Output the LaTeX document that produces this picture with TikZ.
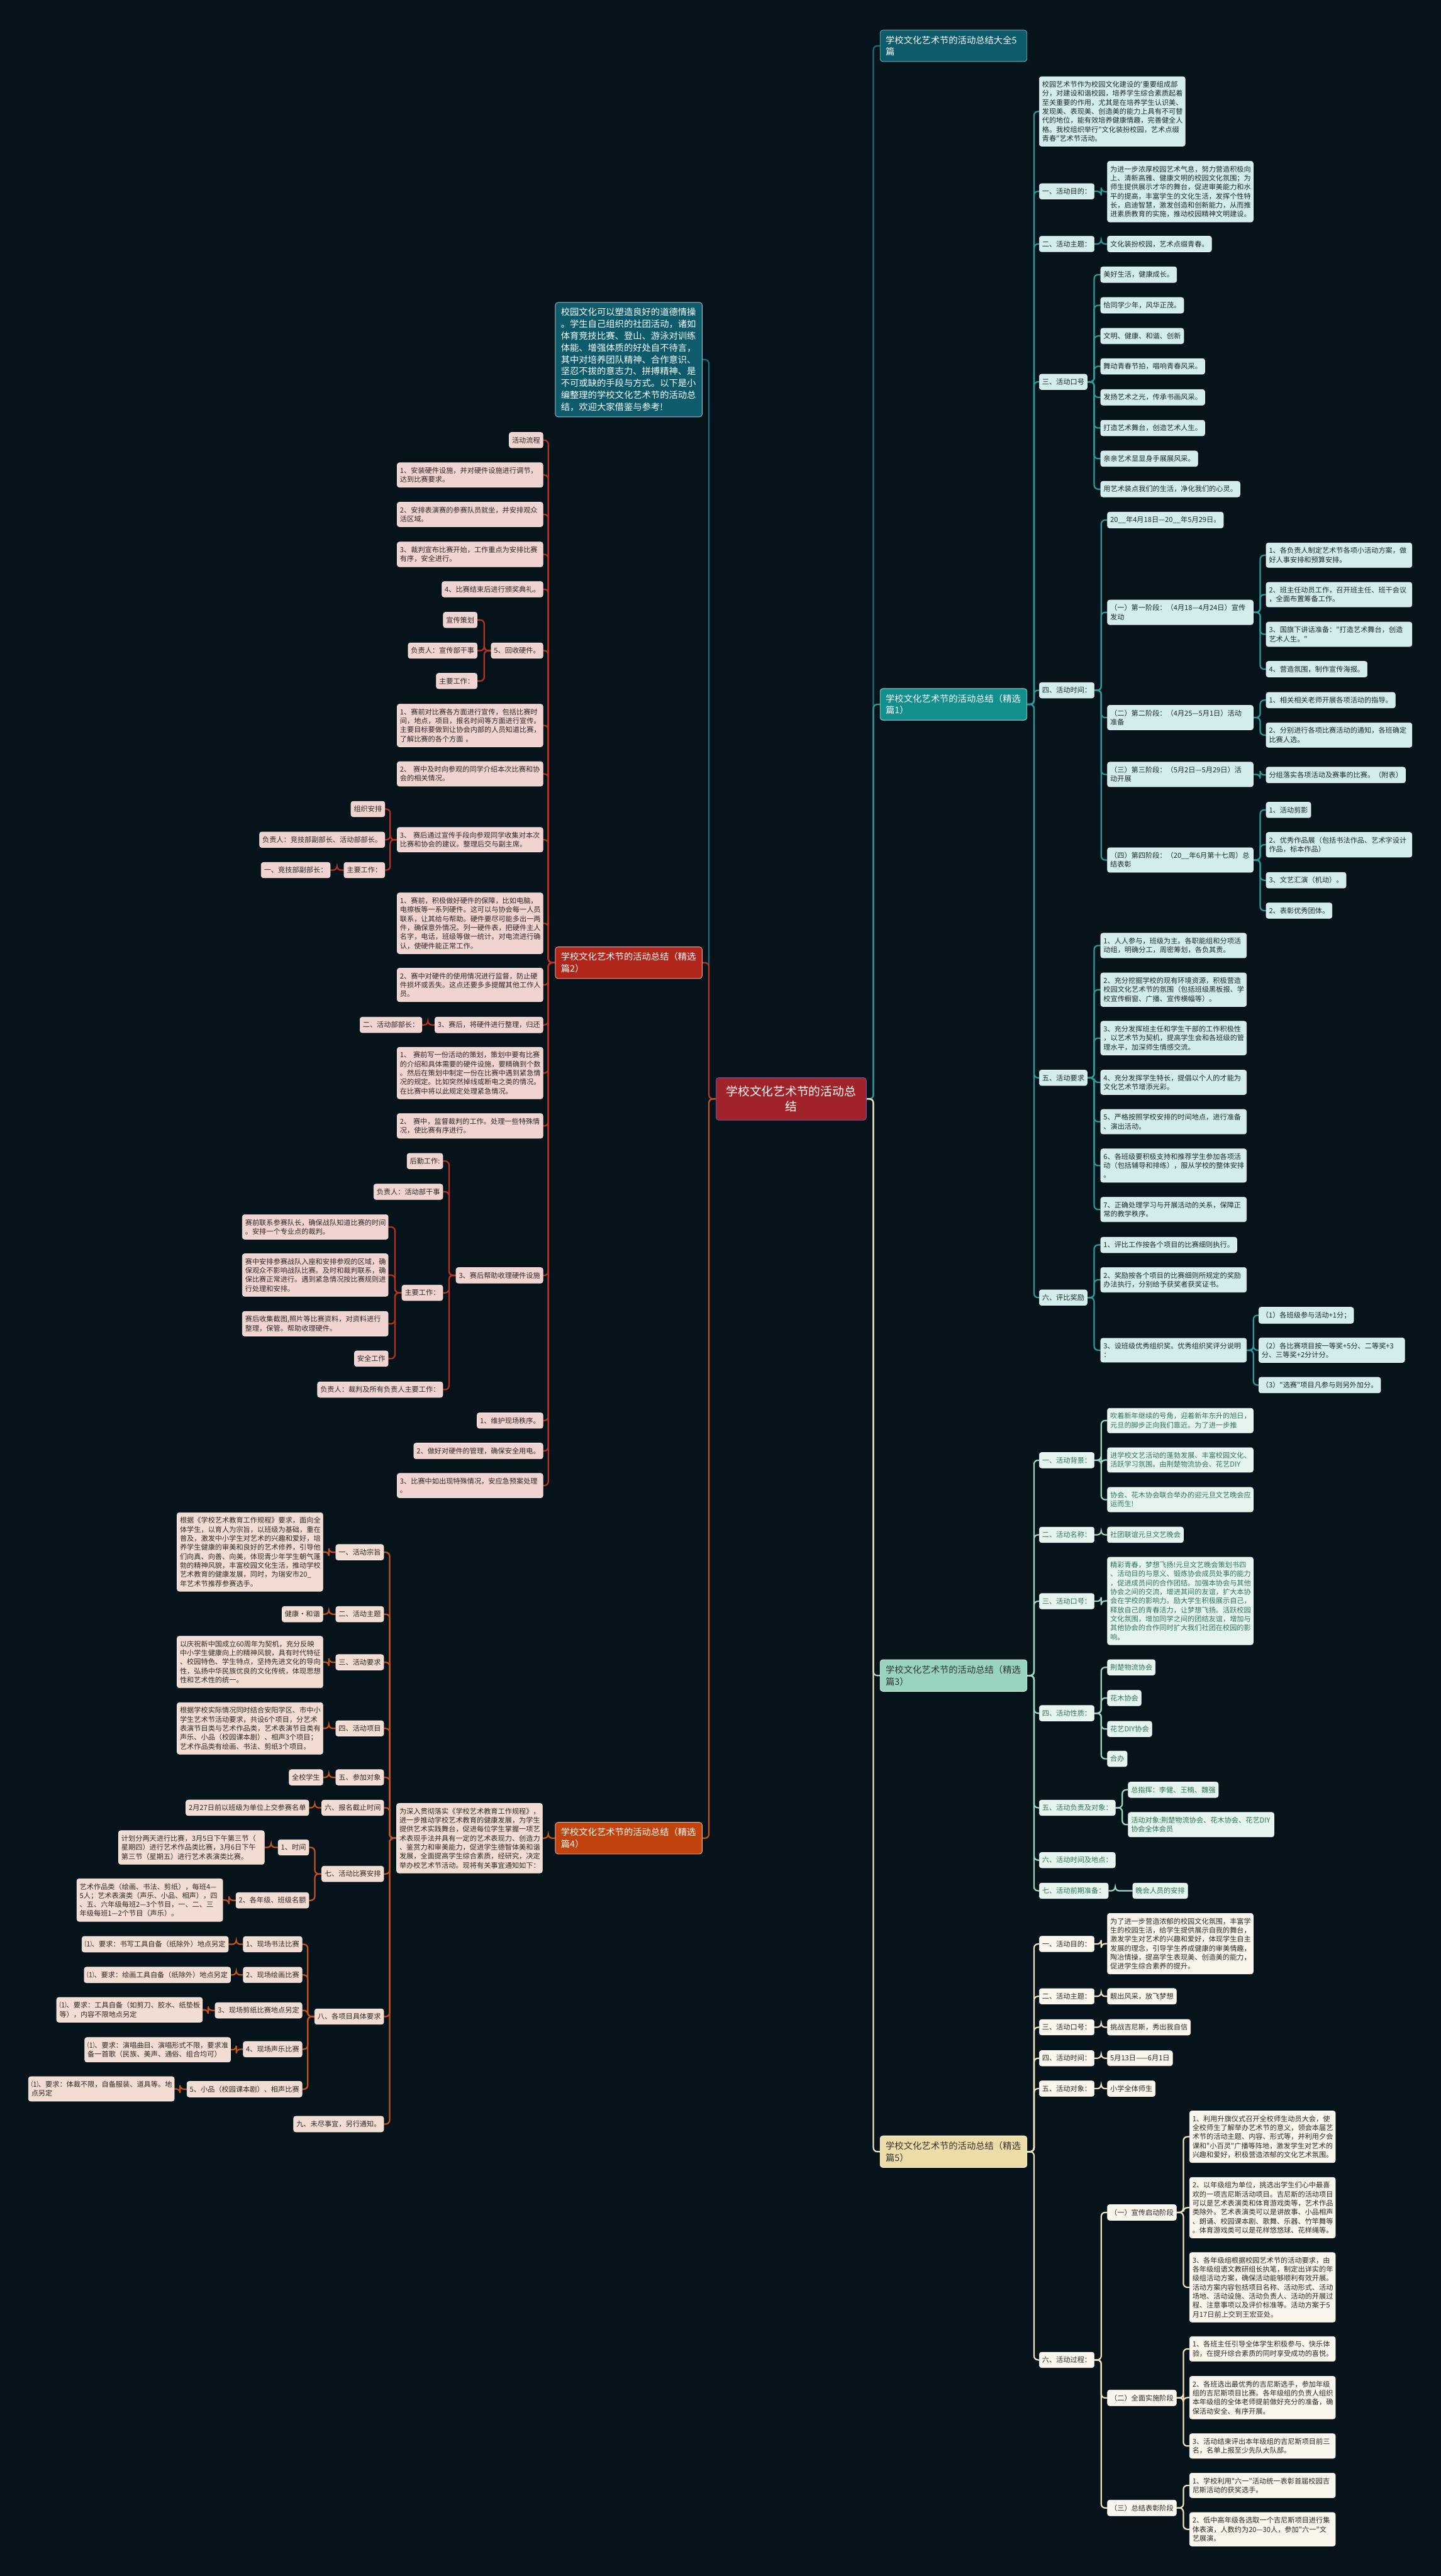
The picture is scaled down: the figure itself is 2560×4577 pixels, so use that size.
\documentclass[tikz,border=0pt]{standalone}
\usepackage{fontspec}
\setmainfont{Noto Sans CJK SC}[Ligatures=TeXOff]
\definecolor{bgc}{HTML}{06131B}
\definecolor{Tdk}{HTML}{0D5B6B}
\definecolor{Ldk}{HTML}{1D6C7C}
\definecolor{B1f}{HTML}{138F8D}
\definecolor{L1}{HTML}{2A9A9C}
\definecolor{P1f}{HTML}{D3ECEC}
\definecolor{P1t}{HTML}{1E2B2B}
\definecolor{B3f}{HTML}{98D4BD}
\definecolor{L3}{HTML}{9BD7C1}
\definecolor{P3f}{HTML}{E5F5EE}
\definecolor{P3t}{HTML}{2C7559}
\definecolor{B5f}{HTML}{EEDCA8}
\definecolor{L5}{HTML}{EFE2BC}
\definecolor{P5f}{HTML}{FBF6EB}
\definecolor{P5t}{HTML}{2A2A2A}
\definecolor{B2f}{HTML}{B0261B}
\definecolor{L2}{HTML}{B8321F}
\definecolor{P2f}{HTML}{F1D3CF}
\definecolor{B4f}{HTML}{C1440F}
\definecolor{L4}{HTML}{C4531C}
\definecolor{P4f}{HTML}{F3DDD2}
\definecolor{Cf}{HTML}{A1232A}
\definecolor{Cd}{HTML}{6A4E9C}
\newcommand\fsml{\fontsize{12.5pt}{16pt}\selectfont}
\newcommand\fbig{\fontsize{16pt}{21pt}\selectfont}
\newcommand\fctr{\fontsize{21pt}{27pt}\selectfont}
\pgfdeclarelayer{bgl}\pgfdeclarelayer{lns}\pgfsetlayers{bgl,lns,main}
\newcommand\cnR[3]{\draw[#1] (#2.east) -- ++(12,0) |- (#3.west);}
\newcommand\cnL[3]{\draw[#1] (#2.west) -- ++(-12,0) |- (#3.east);}
\tikzset{
 base/.style={rounded corners=4pt, align=left, inner xsep=5pt, inner ysep=8pt, font=\fsml, line width=0.8pt},
 tw/.style={text width=249pt},
 p1/.style={base, fill=P1f, draw=white!55!P1f, text=P1t},
 p3/.style={base, fill=P3f, draw=white!55!P3f, text=P3t},
 p5/.style={base, fill=P5f, draw=white!55!P5f, text=P5t},
 p2/.style={base, fill=P2f, draw=white!55!P2f, text=P5t},
 p4/.style={base, fill=P4f, draw=white!55!P4f, text=P5t},
 br/.style={rounded corners=5pt, align=left, text width=241pt, inner xsep=10pt, inner ysep=10pt, font=\fbig, line width=1pt},
 ctrs/.style={rounded corners=5pt, align=center, text width=231pt, inner xsep=18pt, inner ysep=14.5pt, font=\fctr, line width=1.2pt, fill=Cf, draw=Cd, text=white},
 lk/.style={line width=2.5pt, rounded corners=7pt},
 Ldks/.style={lk, draw=Ldk}, L1s/.style={lk, draw=L1}, L3s/.style={lk, draw=L3},
 L5s/.style={lk, draw=L5}, L2s/.style={lk, draw=L2}, L4s/.style={lk, draw=L4}
}
\begin{document}
\begin{tikzpicture}[x=1pt,y=-1pt]
\begin{pgfonlayer}{bgl}
\fill[bgc] (0,0) rectangle (2560,4577);
\end{pgfonlayer}
\useasboundingbox (0,0) rectangle (2560,4577);
% center
\node[ctrs] (ctr) at (1405.5,1952.5) {学校文化艺术节的活动总\\结};
% branches right
\node[br, anchor=west, fill=Tdk, draw=Ldk!60!white, text=white] (b0) at (1563,81.5) {学校文化艺术节的活动总结大全5\\篇};
\node[br, anchor=west, fill=B1f, draw=white!60!B1f, text=white] (b1) at (1563,1251.5) {学校文化艺术节的活动总结（精选\\篇1）};
\node[br, anchor=west, fill=B3f, draw=white!60!B3f, text=black!80] (b3) at (1563,2977) {学校文化艺术节的活动总结（精选\\篇3）};
\node[br, anchor=west, fill=B5f, draw=white!60!B5f, text=black!80] (b5) at (1563,3823) {学校文化艺术节的活动总结（精选\\篇5）};
% branches left
\node[br, anchor=east, fill=Tdk, draw=white!60!Tdk, text=white] (intro) at (1248,639) {校园文化可以塑造良好的道德情操\\。学生自己组织的社团活动，诸如\\体育竞技比赛、登山、游泳对训练\\体能、增强体质的好处自不待言，\\其中对培养团队精神、合作意识、\\坚忍不拔的意志力、拼搏精神、是\\不可或缺的手段与方式。以下是小\\编整理的学校文化艺术节的活动总\\结，欢迎大家借鉴与参考!};
\node[br, anchor=east, fill=B2f, draw=white!60!B2f, text=white] (b2) at (1248,1710.5) {学校文化艺术节的活动总结（精选\\篇2）};
\node[br, anchor=east, fill=B4f, draw=white!60!B4f, text=white] (b4) at (1248,3266) {学校文化艺术节的活动总结（精选\\篇4）};

% ===== 篇1 =====
\node[p1, tw, anchor=west] (a0) at (1846,198) {校园艺术节作为校园文化建设的'重要组成部\\分，对建设和谐校园，培养学生综合素质起着\\至关重要的作用，尤其是在培养学生认识美、\\发现美、表现美、创造美的能力上具有不可替\\代的地位，能有效培养健康情趣，完善健全人\\格。我校组织举行"文化装扮校园，艺术点缀\\青春"艺术节活动。};
\node[p1, anchor=west] (a1) at (1846,340) {一、活动目的：};
\node[p1, tw, anchor=west] (a1c) at (1967,340.5) {为进一步浓厚校园艺术气息，努力营造积极向\\上、清新高雅、健康文明的校园文化氛围；为\\师生提供展示才华的舞台，促进审美能力和水\\平的提高，丰富学生的文化生活，发挥个性特\\长，启迪智慧，激发创造和创新能力，从而推\\进素质教育的实施，推动校园精神文明建设。};
\node[p1, anchor=west] (a2) at (1846,433.5) {二、活动主题：};
\node[p1, anchor=west] (a2c) at (1967,433.5) {文化装扮校园，艺术点缀青春。};
\node[p1, anchor=west] (a3) at (1846,678.5) {三、活动口号};
\node[p1, anchor=west] (a31) at (1955,488) {美好生活，健康成长。};
\node[p1, anchor=west] (a32) at (1955,542.5) {恰同学少年，风华正茂。};
\node[p1, anchor=west] (a33) at (1955,597) {文明、健康、和谐、创新};
\node[p1, anchor=west] (a34) at (1955,651) {舞动青春节拍，唱响青春风采。};
\node[p1, anchor=west] (a35) at (1955,706) {发扬艺术之光，传承书画风采。};
\node[p1, anchor=west] (a36) at (1955,760.5) {打造艺术舞台，创造艺术人生。};
\node[p1, anchor=west] (a37) at (1955,815) {亲亲艺术显显身手展展风采。};
\node[p1, anchor=west] (a38) at (1955,869) {用艺术装点我们的生活，净化我们的心灵。};
\node[p1, anchor=west] (a4) at (1846,1226.5) {四、活动时间：};
\node[p1, anchor=west] (a41) at (1967,924) {20\_\_年4月18日—20\_\_年5月29日。};
\node[p1, tw, anchor=west] (a42) at (1967,1088) {（一）第一阶段：（4月18—4月24日）宣传\\发动};
\node[p1, tw, anchor=west] (a421) at (2249,986.5) {1、各负责人制定艺术节各项小活动方案，做\\好人事安排和预算安排。};
\node[p1, tw, anchor=west] (a422) at (2249,1056.5) {2、班主任动员工作，召开班主任、班干会议\\，全面布置筹备工作。};
\node[p1, tw, anchor=west] (a423) at (2249,1127) {3、国旗下讲话准备："打造艺术舞台，创造\\艺术人生。"};
\node[p1, anchor=west] (a424) at (2249,1189) {4、营造氛围，制作宣传海报。};
\node[p1, tw, anchor=west] (a43) at (1967,1275) {（二）第二阶段：（4月25—5月1日）活动\\准备};
\node[p1, anchor=west] (a431) at (2249,1244) {1、相关相关老师开展各项活动的指导。};
\node[p1, tw, anchor=west] (a432) at (2249,1306) {2、分别进行各项比赛活动的通知，各班确定\\比赛人选。};
\node[p1, tw, anchor=west] (a44) at (1967,1376) {（三）第三阶段：（5月2日—5月29日）活\\动开展};
\node[p1, anchor=west] (a441) at (2249,1377) {分组落实各项活动及赛事的比赛。（附表）};
\node[p1, tw, anchor=west] (a45) at (1967,1528) {（四）第四阶段：（20\_\_年6月第十七周）总\\结表彰};
\node[p1, anchor=west] (a451) at (2249,1439) {1、活动剪影};
\node[p1, tw, anchor=west] (a452) at (2249,1501) {2、优秀作品展（包括书法作品、艺术字设计\\作品，标本作品）};
\node[p1, anchor=west] (a453) at (2249,1564) {3、文艺汇演（机动）。};
\node[p1, anchor=west] (a454) at (2249,1618) {2、表彰优秀团体。};
\node[p1, anchor=west] (a5) at (1846,1915) {五、活动要求};
\node[p1, tw, anchor=west] (a51) at (1955,1680) {1、人人参与，班级为主。各职能组和分项活\\动组，明确分工，周密筹划，各负其责。};
\node[p1, tw, anchor=west] (a52) at (1955,1758.5) {2、充分挖掘学校的现有环境资源，积极营造\\校园文化艺术节的氛围（包括班级黑板报、学\\校宣传橱窗、广播、宣传横幅等）。};
\node[p1, tw, anchor=west] (a53) at (1955,1844.5) {3、充分发挥班主任和学生干部的工作积极性\\，以艺术节为契机，提高学生会和各班级的管\\理水平，加深师生情感交流。};
\node[p1, tw, anchor=west] (a54) at (1955,1923) {4、充分发挥学生特长，提倡以个人的才能为\\文化艺术节增添光彩。};
\node[p1, tw, anchor=west] (a55) at (1955,1993) {5、严格按照学校安排的时间地点，进行准备\\、演出活动。};
\node[p1, tw, anchor=west] (a56) at (1955,2071) {6、各班级要积极支持和推荐学生参加各项活\\动（包括辅导和排练），服从学校的整体安排\\。};
\node[p1, tw, anchor=west] (a57) at (1955,2149) {7、正确处理学习与开展活动的关系，保障正\\常的教学秩序。};
\node[p1, anchor=west] (a6) at (1846,2305.5) {六、评比奖励};
\node[p1, anchor=west] (a61) at (1955,2212) {1、评比工作按各个项目的比赛细则执行。};
\node[p1, tw, anchor=west] (a62) at (1955,2274) {2、奖励按各个项目的比赛细则所规定的奖励\\办法执行，分别给予获奖者获奖证书。};
\node[p1, tw, anchor=west] (a63) at (1955,2399) {3、设班级优秀组织奖。优秀组织奖评分说明\\：};
\node[p1, anchor=west] (a631) at (2236,2337) {（1）各班级参与活动+1分；};
\node[p1, tw, anchor=west] (a632) at (2236,2399) {（2）各比赛项目按一等奖+5分、二等奖+3\\分、三等奖+2分计分。};
\node[p1, anchor=west] (a633) at (2236,2461) {（3）"选赛"项目凡参与则另外加分。};

% ===== 篇3 =====
\node[p3, anchor=west] (c1) at (1846,2594.5) {一、活动背景：};
\node[p3, tw, anchor=west] (c11) at (1967,2524) {吹着新年继续的号角，迎着新年东升的旭日，\\元旦的脚步正向我们靠近。为了进一步推};
\node[p3, tw, anchor=west] (c12) at (1967,2594) {进学校文艺活动的蓬勃发展、丰富校园文化、\\活跃学习氛围。由荆楚物流协会、花艺DIY};
\node[p3, tw, anchor=west] (c13) at (1967,2664.5) {协会、花木协会联合举办的迎元旦文艺晚会应\\运而生!};
\node[p3, anchor=west] (c2) at (1846,2727) {二、活动名称：};
\node[p3, anchor=west] (c21) at (1967,2727) {社团联谊元旦文艺晚会};
\node[p3, anchor=west] (c3) at (1846,2845) {三、活动口号：};
\node[p3, tw, anchor=west] (c31) at (1967,2844.5) {精彩青春，梦想飞扬!元旦文艺晚会策划书四\\、活动目的与意义、锻炼协会成员处事的能力\\，促进成员间的合作团结。加强本协会与其他\\协会之间的交流，增进其间的友谊，扩大本协\\会在学校的影响力。励大学生积极展示自己，\\释放自己的青春活力，让梦想飞扬。活跃校园\\文化氛围，增加同学之间的团结友谊，增加与\\其他协会的合作同时扩大我们社团在校园的影\\响。};
\node[p3, anchor=west] (c4) at (1846,3044) {四、活动性质：};
\node[p3, anchor=west] (c41) at (1967,2962.5) {荆楚物流协会};
\node[p3, anchor=west] (c42) at (1967,3017) {花木协会};
\node[p3, anchor=west] (c43) at (1967,3072) {花艺DIY协会};
\node[p3, anchor=west] (c44) at (1967,3125) {合办};
\node[p3, anchor=west] (c5) at (1846,3212) {五、活动负责及对象：};
\node[p3, anchor=west] (c51) at (2004,3180) {总指挥：李健、王楠、魏强};
\node[p3, tw, anchor=west] (c52) at (2004,3242) {活动对象:荆楚物流协会、花木协会、花艺DIY\\协会全体会员};
\node[p3, anchor=west] (c6) at (1846,3305) {六、活动时间及地点：};
\node[p3, anchor=west] (c7) at (1846,3359.5) {七、活动前期准备：};
\node[p3, anchor=west] (c71) at (2012,3359.5) {晚会人员的安排};

% ===== 篇5 =====
\node[p5, anchor=west] (d1) at (1846,3454) {一、活动目的：};
\node[p5, tw, anchor=west] (d11) at (1967,3453.5) {为了进一步营造浓郁的校园文化氛围，丰富学\\生的校园生活，给学生提供展示自我的舞台，\\激发学生对艺术的兴趣和爱好，体现学生自主\\发展的理念，引导学生养成健康的审美情趣，\\陶冶情操，提高学生表现美、创造美的能力，\\促进学生综合素养的提升。};
\node[p5, anchor=west] (d2) at (1846,3547) {二、活动主题：};
\node[p5, anchor=west] (d21) at (1967,3547) {靓出风采，放飞梦想};
\node[p5, anchor=west] (d3) at (1846,3602) {三、活动口号：};
\node[p5, anchor=west] (d31) at (1967,3602) {挑战吉尼斯，秀出我自信};
\node[p5, anchor=west] (d4) at (1846,3657) {四、活动时间：};
\node[p5, anchor=west] (d41) at (1967,3657) {5月13日——6月1日};
\node[p5, anchor=west] (d5) at (1846,3711) {五、活动对象：};
\node[p5, anchor=west] (d51) at (1967,3711) {小学全体师生};
\node[p5, anchor=west] (d6) at (1846,4193) {六、活动过程：};
\node[p5, anchor=west] (d61) at (1967,3931) {（一）宣传启动阶段};
\node[p5, tw, anchor=west] (d611) at (2113,3796.5) {1、利用升旗仪式召开全校师生动员大会，使\\全校师生了解举办艺术节的意义，领会本届艺\\术节的活动主题、内容、形式等，并利用夕会\\课和"小百灵"广播等阵地，激发学生对艺术的\\兴趣和爱好，积极营造浓郁的文化艺术氛围。};
\node[p5, tw, anchor=west] (d612) at (2113,3922.5) {2、以年级组为单位，挑选出学生们心中最喜\\欢的一项吉尼斯活动项目。吉尼斯的活动项目\\可以是艺术表演类和体育游戏类等，艺术作品\\类除外。艺术表演类可以是讲故事、小品相声\\、朗诵、校园课本剧、歌舞、乐器、竹竿舞等\\。体育游戏类可以是花样悠悠球、花样绳等。};
\node[p5, tw, anchor=west] (d613) at (2113,4064) {3、各年级组根据校园艺术节的活动要求，由\\各年级组语文教研组长执笔，制定出详实的年\\级组活动方案，确保活动能够顺利有效开展。\\活动方案内容包括项目名称、活动形式、活动\\场地、活动设施、活动负责人、活动的开展过\\程、注意事项以及评价标准等。活动方案于5\\月17日前上交到王宏亚处。};
\node[p5, anchor=west] (d62) at (1967,4260.5) {（二）全面实施阶段};
\node[p5, tw, anchor=west] (d621) at (2113,4173.5) {1、各班主任引导全体学生积极参与、快乐体\\验，在提升综合素质的同时享受成功的喜悦。};
\node[p5, tw, anchor=west] (d622) at (2113,4260) {2、各班选出最优秀的吉尼斯选手，参加年级\\组的吉尼斯项目比赛。各年级组的负责人组织\\本年级组的全体老师提前做好充分的准备，确\\保活动安全、有序开展。};
\node[p5, tw, anchor=west] (d623) at (2113,4346) {3、活动结束评出本年级组的吉尼斯项目前三\\名，名单上报至少先队大队部。};
\node[p5, anchor=west] (d63) at (1967,4456) {（三）总结表彰阶段};
\node[p5, tw, anchor=west] (d631) at (2113,4416) {1、学校利用"六一"活动统一表彰首届校园吉\\尼斯活动的获奖选手。};
\node[p5, tw, anchor=west] (d632) at (2113,4494) {2、低中高年级各选取一个吉尼斯项目进行集\\体表演，人数约为20—30人，参加"六一"文\\艺展演。};

% ===== 篇2 =====
\node[p2, anchor=east] (e0) at (965,782) {活动流程};
\node[p2, tw, anchor=east] (e1) at (965,844) {1、安装硬件设施，并对硬件设施进行调节，\\达到比赛要求。};
\node[p2, tw, anchor=east] (e2) at (965,914) {2、安排表演赛的参赛队员就坐，并安排观众\\活区域。};
\node[p2, tw, anchor=east] (e3) at (965,985) {3、裁判宣布比赛开始，工作重点为安排比赛\\有序，安全进行。};
\node[p2, anchor=east] (e4) at (965,1047) {4、比赛结束后进行颁奖典礼。};
\node[p2, anchor=east] (e5) at (965,1156) {5、回收硬件。};
\node[p2, anchor=east] (e51) at (848,1101.5) {宣传策划};
\node[p2, anchor=east] (e52) at (848,1156) {负责人：宣传部干事};
\node[p2, anchor=east] (e53) at (848,1210) {主要工作：};
\node[p2, tw, anchor=east] (e6) at (965,1289) {1、赛前对比赛各方面进行宣传，包括比赛时\\间，地点，项目，报名时间等方面进行宣传。\\主要目标要做到让协会内部的人员知道比赛，\\了解比赛的各个方面 。};
\node[p2, tw, anchor=east] (e7) at (965,1375) {2、 赛中及时向参观的同学介绍本次比赛和协\\会的相关情况。};
\node[p2, tw, anchor=east] (e8) at (965,1492) {3、 赛后通过宣传手段向参观同学收集对本次\\比赛和协会的建议。整理后交与副主席。};
\node[p2, anchor=east] (e81) at (684,1437.5) {组织安排};
\node[p2, anchor=east] (e82) at (684,1492) {负责人：竞技部副部长、活动部部长。};
\node[p2, anchor=east] (e83) at (684,1546) {主要工作：};
\node[p2, anchor=east] (e831) at (587,1546) {一、竞技部副部长：};
\node[p2, tw, anchor=east] (e9) at (965,1640.5) {1、赛前，积极做好硬件的保障，比如电脑，\\电擦板等一系列硬件。这可以与协会每一人员\\联系，让其给与帮助。硬件要尽可能多出一两\\件，确保意外情况。列一硬件表，把硬件主人\\名字，电话，班级等做一统计。对电流进行确\\认，使硬件能正常工作。};
\node[p2, tw, anchor=east] (e10) at (965,1750) {2、赛中对硬件的使用情况进行监督，防止硬\\件损坏或丢失。这点还要多多提醒其他工作人\\员。};
\node[p2, anchor=east] (e11) at (965,1821) {3、赛后，将硬件进行整理，归还};
\node[p2, anchor=east] (e111) at (750,1821) {二、活动部部长：};
\node[p2, tw, anchor=east] (e12) at (965,1906.5) {1、 赛前写一份活动的策划，策划中要有比赛\\的介绍和具体需要的硬件设施，要精确到个数\\。然后在策划中制定一份在比赛中遇到紧急情\\况的规定。比如突然掉线或断电之类的情况。\\在比赛中将以此规定处理紧急情况。};
\node[p2, tw, anchor=east] (e13) at (965,2000.5) {2、 赛中，监督裁判的工作。处理一些特殊情\\况，使比赛有序进行。};
\node[p2, anchor=east] (e14) at (965,2266) {3、赛后帮助收理硬件设施};
\node[p2, anchor=east] (e141) at (787,2063) {后勤工作:};
\node[p2, anchor=east] (e142) at (787,2117.5) {负责人：活动部干事};
\node[p2, anchor=east] (e143) at (787,2297) {主要工作：};
\node[p2, tw, anchor=east] (e1431) at (690,2180) {赛前联系参赛队长，确保战队知道比赛的时间\\。安排一个专业点的裁判。};
\node[p2, tw, anchor=east] (e1432) at (690,2265.5) {赛中安排参赛战队入座和安排参观的区域，确\\保观众不影响战队比赛。及时和裁判联系，确\\保比赛正常进行。遇到紧急情况按比赛规则进\\行处理和安排。};
\node[p2, tw, anchor=east] (e1433) at (690,2352) {赛后收集截图,照片等比赛资料，对资料进行\\整理，保管。帮助收理硬件。};
\node[p2, anchor=east] (e1434) at (690,2414) {安全工作};
\node[p2, anchor=east] (e144) at (787,2469) {负责人：裁判及所有负责人主要工作：};
\node[p2, anchor=east] (e15) at (965,2524) {1、维护现场秩序。};
\node[p2, anchor=east] (e16) at (965,2578) {2、做好对硬件的管理，确保安全用电。};
\node[p2, tw, anchor=east] (e17) at (965,2639.5) {3、比赛中如出现特殊情况，安应急预案处理\\。};

% ===== 篇4 =====
\node[p4, tw, anchor=east] (f0) at (964,3266) {为深入贯彻落实《学校艺术教育工作规程》，\\进一步推动学校艺术教育的健康发展，为学生\\提供艺术实践舞台，促进每位学生掌握一项艺\\术表现手法并具有一定的艺术表现力、创造力\\、鉴赏力和审美能力，促进学生德智体美和谐\\发展，全面提高学生综合素质，经研究，决定\\举办校艺术节活动。现将有关事宜通知如下：};
\node[p4, anchor=east] (f1) at (682,2758) {一、活动宗旨};
\node[p4, tw, anchor=east] (f11) at (574,2757.5) {根据《学校艺术教育工作规程》要求，面向全\\体学生，以育人为宗旨，以班级为基础，重在\\普及，激发中小学生对艺术的兴趣和爱好，培\\养学生健康的审美和良好的艺术修养，引导他\\们向真、向善、向美，体现青少年学生朝气蓬\\勃的精神风貌，丰富校园文化生活，推动学校\\艺术教育的健康发展，同时，为瑞安市20\_\\年艺术节推荐参赛选手。};
\node[p4, anchor=east] (f2) at (682,2868) {二、活动主题};
\node[p4, anchor=east] (f21) at (574,2868) {健康·和谐};
\node[p4, anchor=east] (f3) at (682,2953.5) {三、活动要求};
\node[p4, tw, anchor=east] (f31) at (574,2953) {以庆祝新中国成立60周年为契机，充分反映\\中小学生健康向上的精神风貌，具有时代特征\\、校园特色、学生特点，坚持先进文化的导向\\性，弘扬中华民族优良的文化传统，体现思想\\性和艺术性的统一。};
\node[p4, anchor=east] (f4) at (682,3071) {四、活动项目};
\node[p4, tw, anchor=east] (f41) at (574,3071) {根据学校实际情况同时结合安阳学区、市中小\\学生艺术节活动要求，共设6个项目，分艺术\\表演节目类与艺术作品类，艺术表演节目类有\\声乐、小品（校园课本剧）、相声3个项目；\\艺术作品类有绘画、书法、剪纸3个项目。};
\node[p4, anchor=east] (f5) at (682,3158) {五、参加对象};
\node[p4, anchor=east] (f51) at (574,3158) {全校学生};
\node[p4, anchor=east] (f6) at (682,3212) {六、报名截止时间};
\node[p4, anchor=east] (f61) at (549,3212) {2月27日前以班级为单位上交参赛名单};
\node[p4, anchor=east] (f7) at (682,3329.5) {七、活动比赛安排};
\node[p4, anchor=east] (f71) at (549,3282.5) {1、时间};
\node[p4, tw, anchor=east] (f711) at (470,3282.5) {计划分两天进行比赛，3月5日下午第三节（\\星期四）进行艺术作品类比赛，3月6日下午\\第三节（星期五）进行艺术表演类比赛。};
\node[p4, anchor=east] (f72) at (549,3376.5) {2、各年级、班级名额};
\node[p4, tw, anchor=east] (f721) at (396,3376) {艺术作品类（绘画、书法、剪纸），每班4—\\5人；艺术表演类（声乐、小品、相声），四\\、五、六年级每班2—3个节目，一、二、三\\年级每班1—2个节目（声乐）。};
\node[p4, anchor=east] (f8) at (682,3583) {八、各项目具体要求};
\node[p4, anchor=east] (f81) at (537,3454.5) {1、现场书法比赛};
\node[p4, anchor=east] (f811) at (406,3454.5) {⑴、要求：书写工具自备（纸除外）地点另定};
\node[p4, anchor=east] (f82) at (537,3509) {2、现场绘画比赛};
\node[p4, anchor=east] (f821) at (410,3509) {⑴、要求：绘画工具自备（纸除外）地点另定};
\node[p4, anchor=east] (f83) at (537,3572) {3、现场剪纸比赛地点另定};
\node[p4, tw, anchor=east] (f831) at (360,3571) {⑴、要求：工具自备（如剪刀、胶水、纸垫板\\等），内容不限地点另定};
\node[p4, anchor=east] (f84) at (537,3641) {4、现场声乐比赛};
\node[p4, tw, anchor=east] (f841) at (410,3642) {⑴、要求：演唱曲目、演唱形式不限，要求准\\备一首歌（民族、美声、通俗、组合均可）};
\node[p4, anchor=east] (f85) at (537,3712) {5、小品（校园课本剧）、相声比赛};
\node[p4, tw, anchor=east] (f851) at (310,3711.5) {⑴、要求：体裁不限，自备服装、道具等。地\\点另定};
\node[p4, anchor=east] (f9) at (682,3774) {九、未尽事宜，另行通知。};

% ===== connectors =====
\begin{pgfonlayer}{lns}
\cnR{Ldks}{ctr}{b0}
\cnR{L1s}{ctr}{b1}
\cnR{L3s}{ctr}{b3}
\cnR{L5s}{ctr}{b5}
\cnL{Ldks}{ctr}{intro}
\cnL{L2s}{ctr}{b2}
\cnL{L4s}{ctr}{b4}
% 篇1
\foreach \c in {a0,a1,a2,a3,a4,a5,a6} {\cnR{L1s}{b1}{\c}}
\cnR{L1s}{a1}{a1c}
\cnR{L1s}{a2}{a2c}
\foreach \c in {a31,a32,a33,a34,a35,a36,a37,a38} {\cnR{L1s}{a3}{\c}}
\foreach \c in {a41,a42,a43,a44,a45} {\cnR{L1s}{a4}{\c}}
\foreach \c in {a421,a422,a423,a424} {\cnR{L1s}{a42}{\c}}
\foreach \c in {a431,a432} {\cnR{L1s}{a43}{\c}}
\cnR{L1s}{a44}{a441}
\foreach \c in {a451,a452,a453,a454} {\cnR{L1s}{a45}{\c}}
\foreach \c in {a51,a52,a53,a54,a55,a56,a57} {\cnR{L1s}{a5}{\c}}
\foreach \c in {a61,a62,a63} {\cnR{L1s}{a6}{\c}}
\foreach \c in {a631,a632,a633} {\cnR{L1s}{a63}{\c}}
% 篇3
\foreach \c in {c1,c2,c3,c4,c5,c6,c7} {\cnR{L3s}{b3}{\c}}
\foreach \c in {c11,c12,c13} {\cnR{L3s}{c1}{\c}}
\cnR{L3s}{c2}{c21}
\cnR{L3s}{c3}{c31}
\foreach \c in {c41,c42,c43,c44} {\cnR{L3s}{c4}{\c}}
\foreach \c in {c51,c52} {\cnR{L3s}{c5}{\c}}
\cnR{L3s}{c7}{c71}
% 篇5
\foreach \c in {d1,d2,d3,d4,d5,d6} {\cnR{L5s}{b5}{\c}}
\cnR{L5s}{d1}{d11}
\cnR{L5s}{d2}{d21}
\cnR{L5s}{d3}{d31}
\cnR{L5s}{d4}{d41}
\cnR{L5s}{d5}{d51}
\foreach \c in {d61,d62,d63} {\cnR{L5s}{d6}{\c}}
\foreach \c in {d611,d612,d613} {\cnR{L5s}{d61}{\c}}
\foreach \c in {d621,d622,d623} {\cnR{L5s}{d62}{\c}}
\foreach \c in {d631,d632} {\cnR{L5s}{d63}{\c}}
% 篇2
\foreach \c in {e0,e1,e2,e3,e4,e5,e6,e7,e8,e9,e10,e11,e12,e13,e14,e15,e16,e17} {\cnL{L2s}{b2}{\c}}
\foreach \c in {e51,e52,e53} {\cnL{L2s}{e5}{\c}}
\foreach \c in {e81,e82,e83} {\cnL{L2s}{e8}{\c}}
\cnL{L2s}{e83}{e831}
\cnL{L2s}{e11}{e111}
\foreach \c in {e141,e142,e143,e144} {\cnL{L2s}{e14}{\c}}
\foreach \c in {e1431,e1432,e1433,e1434} {\cnL{L2s}{e143}{\c}}
% 篇4
\cnL{L4s}{b4}{f0}
\foreach \c in {f1,f2,f3,f4,f5,f6,f7,f8,f9} {\cnL{L4s}{f0}{\c}}
\cnL{L4s}{f1}{f11}
\cnL{L4s}{f2}{f21}
\cnL{L4s}{f3}{f31}
\cnL{L4s}{f4}{f41}
\cnL{L4s}{f5}{f51}
\cnL{L4s}{f6}{f61}
\foreach \c in {f71,f72} {\cnL{L4s}{f7}{\c}}
\cnL{L4s}{f71}{f711}
\cnL{L4s}{f72}{f721}
\foreach \c in {f81,f82,f83,f84,f85} {\cnL{L4s}{f8}{\c}}
\cnL{L4s}{f81}{f811}
\cnL{L4s}{f82}{f821}
\cnL{L4s}{f83}{f831}
\cnL{L4s}{f84}{f841}
\cnL{L4s}{f85}{f851}
\end{pgfonlayer}
\end{tikzpicture}
\end{document}
